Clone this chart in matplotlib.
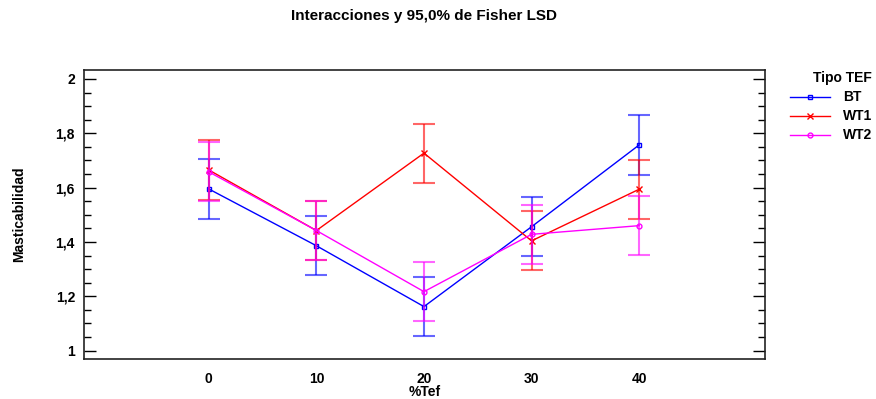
import numpy as np
import matplotlib
matplotlib.use("Agg")
import matplotlib.pyplot as plt
from matplotlib.ticker import MultipleLocator, FuncFormatter

plt.rcParams['font.family'] = ['Liberation Sans', 'DejaVu Sans']
plt.rcParams['font.weight'] = 'bold'

# datos
tef = [0, 10, 20, 30, 40]
bt = [1.595, 1.386, 1.162, 1.456, 1.757]
wt1 = [1.665, 1.442, 1.727, 1.404, 1.594]
wt2 = [1.658, 1.442, 1.217, 1.428, 1.460]
lsd = 0.109  # semiancho del intervalo LSD

series = [("BT", bt, "#0000ff", "s"),
          ("WT1", wt1, "#ff0000", "x"),
          ("WT2", wt2, "#ff00ff", "o")]

fig = plt.figure(figsize=(8.76, 3.99), dpi=100)
ax = fig.add_axes([0.0959, 0.0995, 0.7774, 0.7251])

for name, vals, col, mk in series:
    ax.errorbar(tef, vals, yerr=lsd, fmt="none", ecolor=col, alpha=0.6,
                elinewidth=1.5, capsize=8, capthick=1.5)
    ax.plot(tef, vals, color=col, lw=1, marker=mk, ms=4.5 if mk == "x" else 3.5,
            mfc="none", mec=col, mew=1, label=name)

ax.set_xlim(-11.6, 51.7)
ax.set_ylim(0.968, 2.033)
ax.set_xticks(tef)
ax.yaxis.set_major_locator(MultipleLocator(0.2))
ax.yaxis.set_minor_locator(MultipleLocator(0.05))
ax.yaxis.set_major_formatter(FuncFormatter(lambda v, p: f"{v:g}".replace(".", ",")))
ax.tick_params(axis="y", which="both", direction="in", left=True, right=True)
ax.tick_params(axis="y", which="major", length=8.5, width=1, pad=6.5, labelsize=10)
ax.tick_params(axis="y", which="minor", length=5, width=1)
ax.tick_params(axis="x", length=0, pad=9, labelsize=10)
for s in ax.spines.values():
    s.set_linewidth(1.2)
    s.set_color("#222222")

ax.set_ylabel("Masticabilidad", fontsize=10, fontweight="bold", labelpad=21)
ax.set_xlabel("%Tef", fontsize=10, fontweight="bold", labelpad=-0.6)
fig.suptitle("Interacciones y 95,0% de Fisher LSD", x=0.4845, y=0.978,
             fontsize=11, fontweight="bold")

leg = ax.legend(loc="upper left", bbox_to_anchor=(0.8954, 0.835),
                bbox_transform=fig.transFigure, frameon=False,
                title="Tipo TEF", fontsize=10, handlelength=2.88,
                handletextpad=0.93, labelspacing=0.36, borderaxespad=0)
leg.get_title().set_fontweight("bold")
leg.get_title().set_fontsize(10)
leg._legend_box.align = "right"

fig.savefig("out.png", dpi=100)
